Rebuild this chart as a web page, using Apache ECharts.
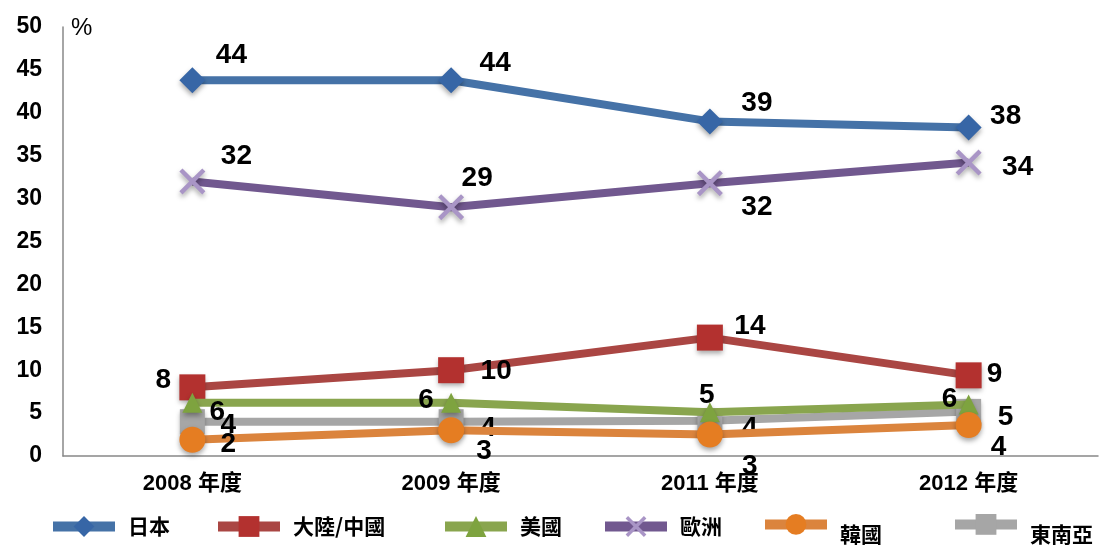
<!DOCTYPE html>
<html><head><meta charset="utf-8">
<script src="https://cdn.jsdelivr.net/npm/echarts@6/dist/echarts.min.js"></script>
<style>html,body{margin:0;padding:0;background:#fff}#c{width:1104px;height:549px}</style>
</head><body><div id="c"></div>
<script>
const categories = ['2008 年度', '2009 年度', '2011 年度', '2012 年度'];
const yTicks = [0, 5, 10, 15, 20, 25, 30, 35, 40, 45, 50];
const japan = [43.8, 43.8, 39.0, 38.3];
const china = [8.0, 10.0, 13.8, 9.4];
const usa = [6.2, 6.2, 5.1, 6.0];
const europe = [32.0, 29.0, 31.8, 34.2];
const korea = [1.9, 3.0, 2.5, 3.6];
const seAsia = [4.0, 4.0, 4.1, 5.2];

// label offsets (style only)
const offJapan = [[39,-25],[44,-17],[47,-18],[37,-11]];
const offChina = [[-29,-7],[45,1],[40,-11],[26,-1]];
const offUsa = [[25,9],[-25,-3],[-3,-17],[-19,-5]];
const offEurope = [[44,-25],[26,-29],[47,24],[49,5]];
const offKorea = [[36,5],[33,21],[40,32],[30,22]];
const offSe = [[36,4],[37,7],[40,7],[37,6]];

const xPath = 'path://M0,1.2L1.2,0L10,8.8L8.8,10Z M8.8,0L10,1.2L1.2,10L0,8.8Z';
const shadow = {shadowBlur: 5, shadowOffsetY: 3, shadowColor: 'rgba(0,0,0,0.35)'};

function mk(name, vals, offs, lineColor, markColor, symbol, size, z) {
  return {
    name, type: 'line', data: vals.map((v, i) => ({value: v, label: {offset: offs[i]}})),
    symbol, symbolSize: size, z,
    lineStyle: {color: lineColor, width: 8},
    itemStyle: Object.assign({color: markColor}, shadow),
    label: {show: true, position: 'inside', align: 'center', verticalAlign: 'middle',
      formatter: p => String(Math.round(p.value)),
      fontFamily: 'Liberation Sans, Arial, sans-serif', fontWeight: 'bold', fontSize: 28, color: '#000'},
    emphasis: {disabled: true}, animation: false
  };
}

const series = [
  mk('東南亞', seAsia, offSe, '#a6a6a6', '#a6a6a6', 'rect', 25, 2),
  mk('大陸/中國', china, offChina, '#aa4643', '#b3312f', 'rect', 26, 3),
  mk('美國', usa, offUsa, '#89a54e', '#7ea33f', 'triangle', 20, 4),
  mk('韓國', korea, offKorea, '#db843d', '#e57d22', 'circle', 26, 5),
  mk('歐洲', europe, offEurope, '#71588f', '#a995c6', xPath, 26, 6),
  mk('日本', japan, offJapan, '#4572a7', '#3766a6', 'diamond', 26, 7)
];

const legendPos = [
  ['日本', 48, 516, 0], ['大陸/中國', 213, 516, 0], ['美國', 440, 516, 0],
  ['歐洲', 600, 516, 0], ['韓國', 760, 514, 20], ['東南亞', 950, 514, 20]
];
const legends = legendPos.map(([n, l, t, dy]) => ({
  data: [n], left: l, top: t, padding: 0, itemWidth: 62, itemHeight: 26,
  lineStyle: {width: 10},
  formatter: nm => '{a|' + nm + '}',
  textStyle: {fontFamily: 'Noto Sans CJK TC', fontSize: 21, fontWeight: 'bold', color: '#000',
    rich: {a: {fontFamily: 'Noto Sans CJK TC', fontSize: 21, fontWeight: 'bold', color: '#000', padding: [dy, 0, 0, 8]}}}
}));

const chart = echarts.init(document.getElementById('c'));
chart.setOption({
  animation: false,
  grid: {left: 63, right: 6, top: 27, bottom: 93, containLabel: false},
  legend: legends,
  xAxis: {type: 'category', data: categories, boundaryGap: true,
    axisLine: {lineStyle: {color: '#888', width: 1.5}}, axisTick: {show: false},
    axisLabel: {margin: 17, fontFamily: 'Liberation Sans, Noto Sans CJK TC, sans-serif', fontWeight: 'bold', fontSize: 22, color: '#000'}},
  yAxis: {type: 'value', min: 0, max: 50, interval: 5,
    name: '%', nameLocation: 'end', nameGap: -1,
    nameTextStyle: {align: 'left', verticalAlign: 'middle', padding: [0, 0, 0, 8], fontFamily: 'Liberation Sans, Arial', fontSize: 24, color: '#000'},
    axisLine: {show: true, lineStyle: {color: '#888', width: 1.5}}, axisTick: {show: false}, splitLine: {show: false},
    axisLabel: {margin: 21, formatter: v => yTicks.includes(v) ? String(v) : '', fontFamily: 'Liberation Sans, Arial', fontWeight: 'bold', fontSize: 23, color: '#000'}},
  series
});
</script></body></html>
